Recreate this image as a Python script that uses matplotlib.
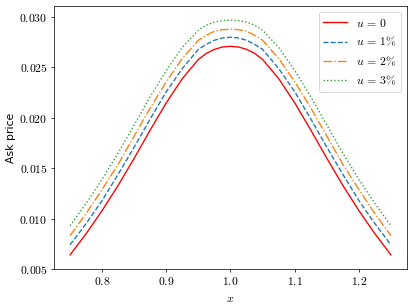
"""
Ask price vs x for several u levels.
Output: out.png (415x308 px)
"""
import matplotlib
matplotlib.use("Agg")
import matplotlib.pyplot as plt
from matplotlib.ticker import FuncFormatter

# ── data ──────────────────────────────────────────────────────────────────────
X = [0.75, 0.775, 0.80, 0.825, 0.85, 0.875, 0.90, 0.925, 0.95, 0.9625, 0.975, 0.9875, 1.00,
     1.0125, 1.025, 1.0375, 1.05, 1.075, 1.10, 1.125, 1.15, 1.175, 1.20, 1.225, 1.25]

ASK_U0 = [0.0064, 0.0085, 0.0108, 0.0133, 0.0160, 0.0188, 0.0215, 0.0239, 0.0258, 0.0264, 0.0268, 0.02703, 0.0271,
          0.02703, 0.0268, 0.0264, 0.0258, 0.0239, 0.0215, 0.0188, 0.0160, 0.0133, 0.0108, 0.0085, 0.0064]
ASK_U1 = [0.0074, 0.0095, 0.0118, 0.0144, 0.0171, 0.0199, 0.0226, 0.0249, 0.0268, 0.0273, 0.0277, 0.02793, 0.0280,
          0.02793, 0.0277, 0.0273, 0.0268, 0.0249, 0.0226, 0.0199, 0.0171, 0.0144, 0.0118, 0.0095, 0.0074]
ASK_U2 = [0.0083, 0.0105, 0.0129, 0.0154, 0.0182, 0.0210, 0.0236, 0.0259, 0.0277, 0.0282, 0.0286, 0.02875, 0.0288,
          0.02875, 0.0286, 0.0282, 0.0277, 0.0259, 0.0236, 0.0210, 0.0182, 0.0154, 0.0129, 0.0105, 0.0083]
ASK_U3 = [0.0093, 0.0115, 0.0139, 0.0165, 0.0193, 0.0221, 0.0247, 0.0270, 0.0287, 0.0292, 0.0295, 0.02965, 0.0297,
          0.02965, 0.0295, 0.0292, 0.0287, 0.0270, 0.0247, 0.0221, 0.0193, 0.0165, 0.0139, 0.0115, 0.0093]

LABELS = [r"$u\,=\,0$", r"$u\,=\,1\%$", r"$u\,=\,2\%$", r"$u\,=\,3\%$"]

# ── style ─────────────────────────────────────────────────────────────────────
plt.rcParams["mathtext.fontset"] = "cm"
plt.rcParams["font.size"] = 13
COLORS = ["red", "#1f77b4", "#ff7f0e", "#2ca02c"]
STYLES = ["-", "--", "-.", ":"]

DPI = 65
fig = plt.figure(figsize=(415 / DPI, 308 / DPI), dpi=DPI, facecolor="white")
ax = fig.add_axes([0.1301, 0.1266, 0.8506, 0.8539])

for ys, lab, c, ls in zip([ASK_U0, ASK_U1, ASK_U2, ASK_U3], LABELS, COLORS, STYLES):
    ax.plot(X, ys, color=c, linestyle=ls, linewidth=1.5, label=lab)

ax.set_xlim(0.725, 1.275)
ax.set_ylim(0.005, 0.0311)
ax.set_xticks([0.8, 0.9, 1.0, 1.1, 1.2])
ax.set_yticks([0.005, 0.010, 0.015, 0.020, 0.025, 0.030])
ax.xaxis.set_major_formatter(FuncFormatter(lambda v, p: f"${v:.1f}$"))
ax.yaxis.set_major_formatter(FuncFormatter(lambda v, p: f"${v:.3f}$"))

ax.set_xlabel(r"$x$")
ax.set_ylabel("Ask price", fontsize=12)
ax.legend(loc="upper right")

fig.savefig("out.png", dpi=DPI, facecolor="white")
plt.close(fig)
